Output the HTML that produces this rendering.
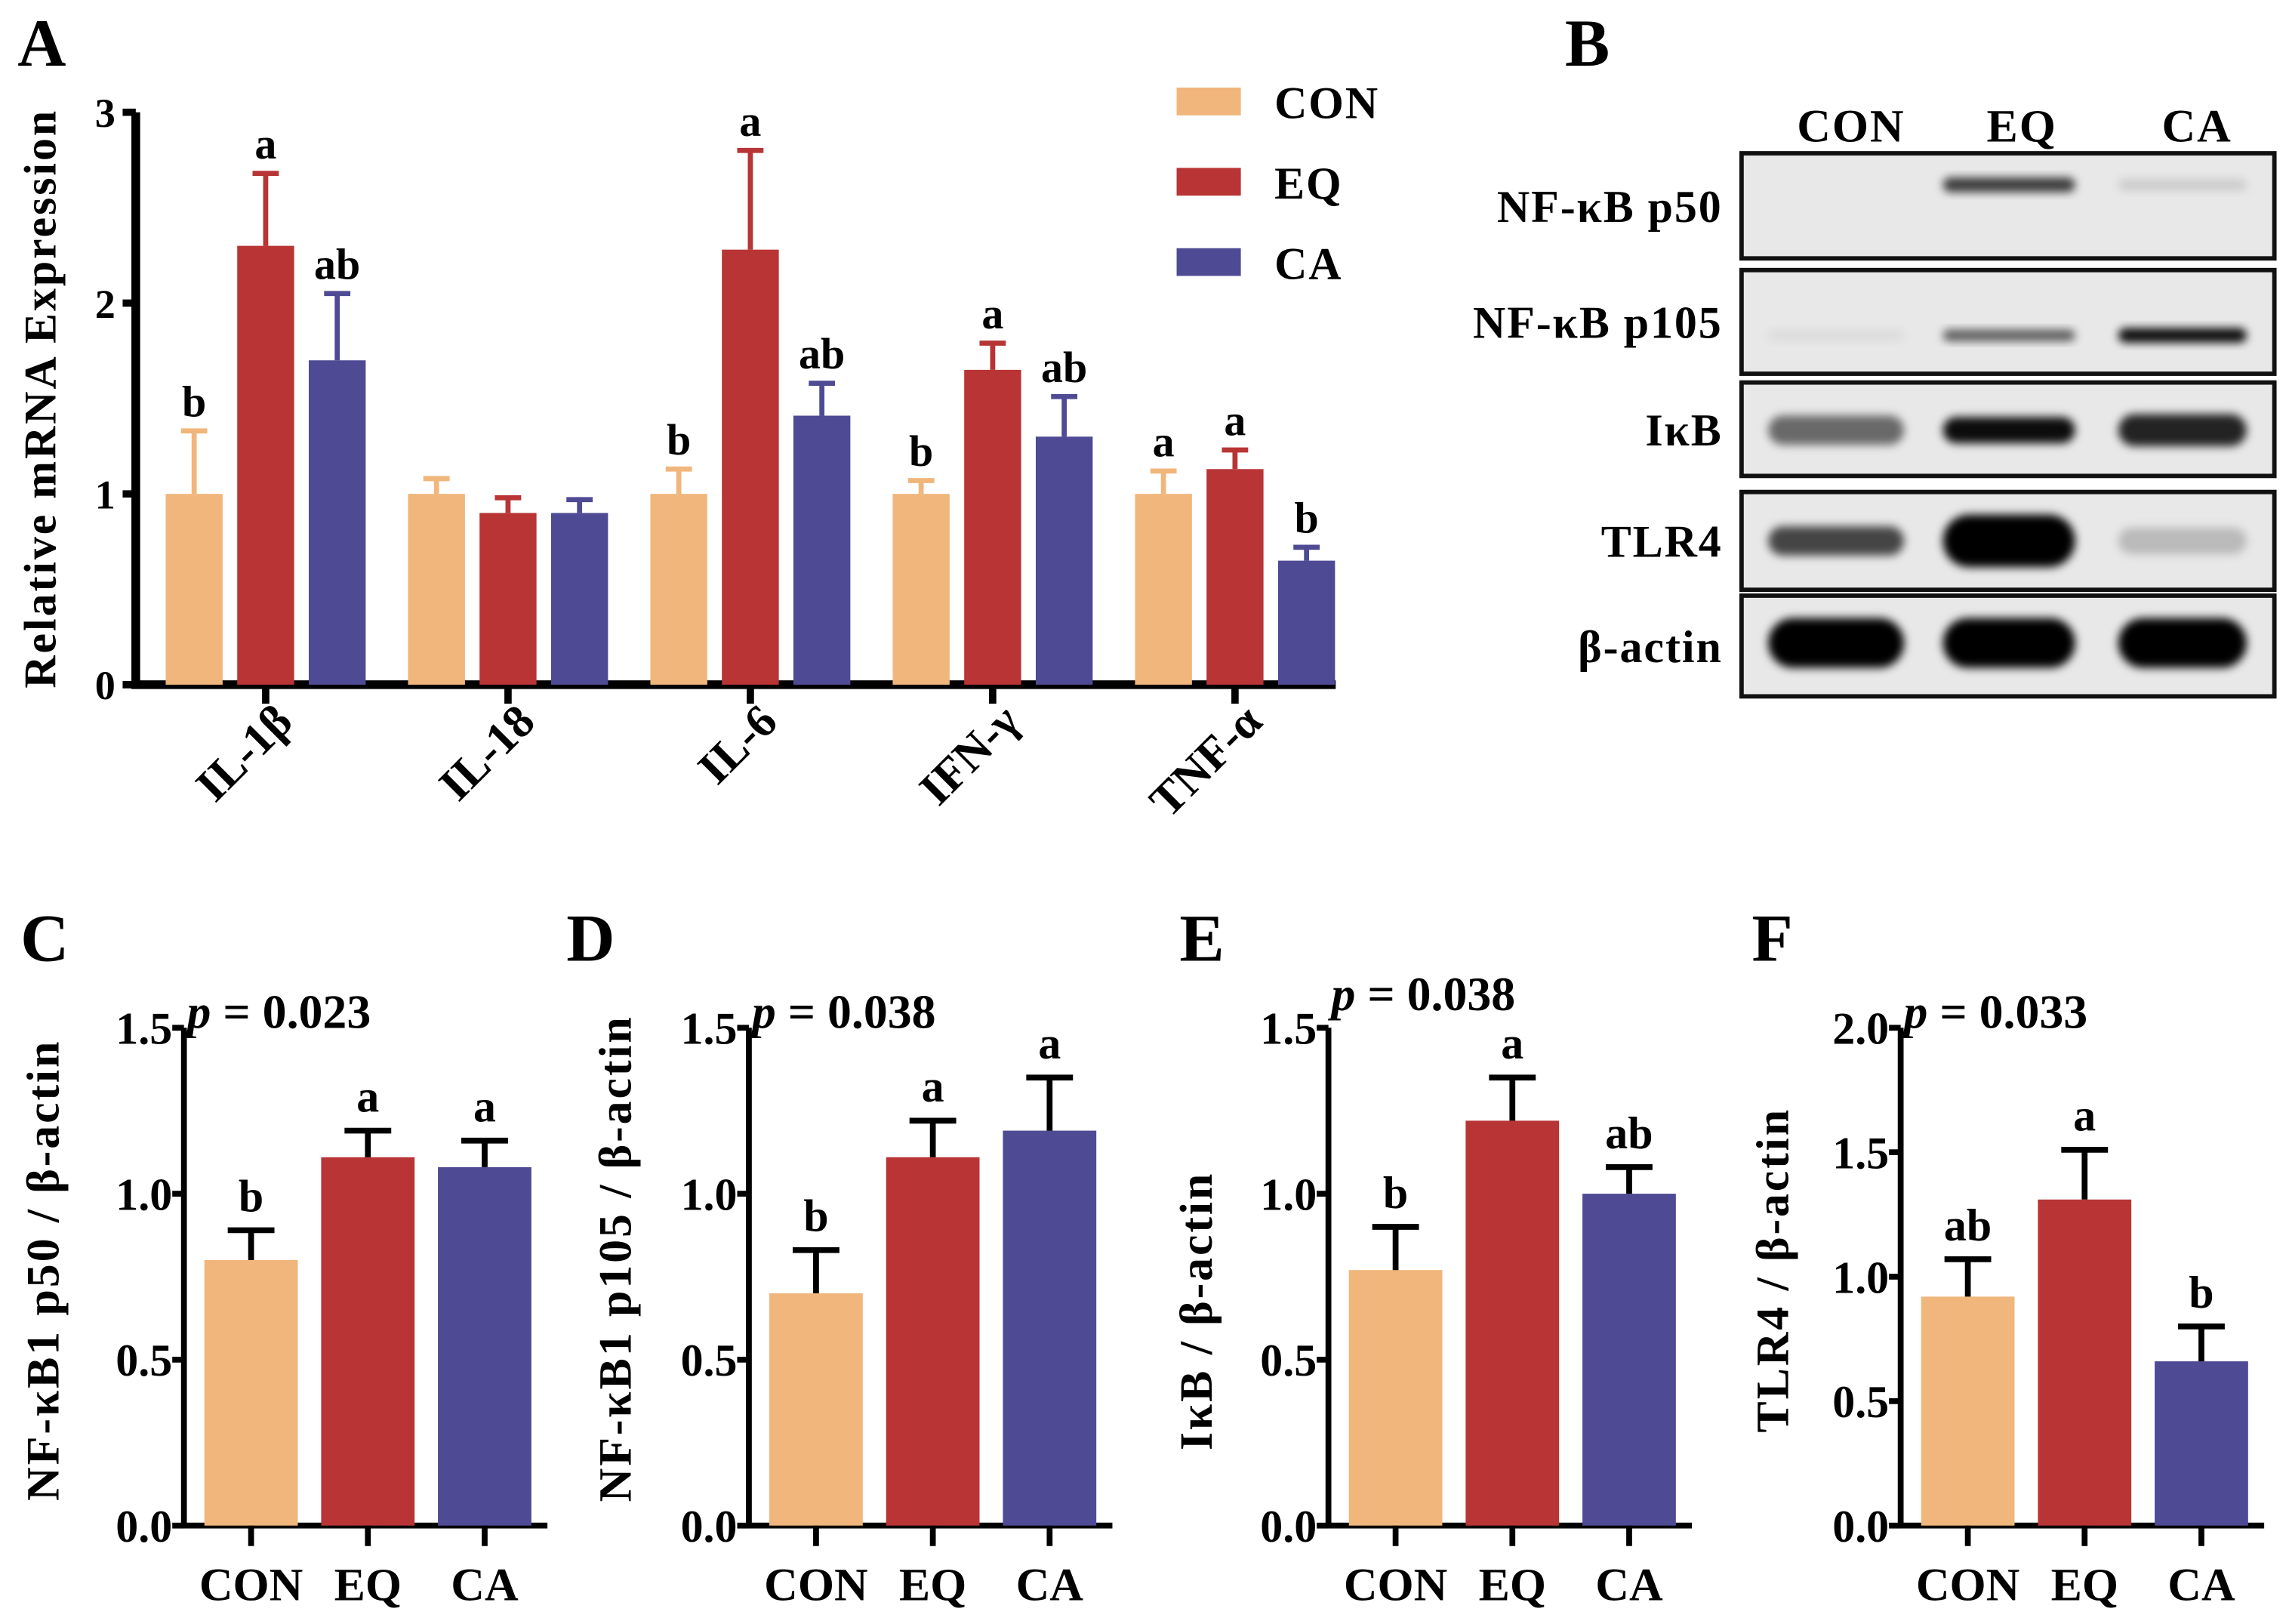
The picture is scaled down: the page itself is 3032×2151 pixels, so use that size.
<!DOCTYPE html>
<html><head><meta charset="utf-8"><style>
html,body{margin:0;padding:0;background:#fff;}
svg{display:block;}
text{font-family:"Liberation Serif",serif;font-weight:bold;fill:#000;}
</style></head><body>
<svg id="fig" width="3032" height="2151" viewBox="0 0 1568 1112.4" xmlns="http://www.w3.org/2000/svg">
<defs><filter id="blur" x="-20%" y="-50%" width="140%" height="200%"><feGaussianBlur stdDeviation="3"/></filter></defs>
</svg>
<script>
// ---------- Panel A data ----------
const catsA = ["IL-1β","IL-18","IL-6","IFN-γ","TNF-α"];
const conA = [1.0, 1.0, 1.0, 1.0, 1.0];
const conErrA = [0.33, 0.08, 0.13, 0.07, 0.12];
const eqA = [2.3, 0.9, 2.28, 1.65, 1.13];
const eqErrA = [0.38, 0.08, 0.52, 0.14, 0.1];
const caA = [1.7, 0.9, 1.41, 1.3, 0.65];
const caErrA = [0.35, 0.07, 0.17, 0.21, 0.07];
const conLetA = ["b","","b","b","a"];
const eqLetA = ["a","","a","a","a"];
const caLetA = ["ab","","ab","ab","b"];
const ticksA = [0,1,2,3];
const groups = ["CON","EQ","CA"];
const colors = ["#F0B67B","#B83435","#4F4A94"];

// ---------- Panels C-F data ----------
const valsC = [0.8, 1.11, 1.08]; const errC = [0.09, 0.08, 0.08]; const letC = ["b","a","a"];
const valsD = [0.7, 1.11, 1.19]; const errD = [0.13, 0.11, 0.16]; const letD = ["b","a","a"];
const valsE = [0.77, 1.22, 1.0]; const errE = [0.13, 0.13, 0.08]; const letE = ["b","a","ab"];
const valsF = [0.92, 1.31, 0.66]; const errF = [0.15, 0.2, 0.14]; const letF = ["ab","a","b"];
const ticks15 = [0,0.5,1.0,1.5];
const ticks20 = [0,0.5,1.0,1.5,2.0];

const svg = document.getElementById('fig');
const NS = "http://www.w3.org/2000/svg";
function mk(tag, attrs, parent){
  const e = document.createElementNS(NS, tag);
  for (const k in attrs) e.setAttribute(k, attrs[k]);
  (parent||svg).appendChild(e);
  return e;
}
function txt(s, attrs, parent){ const t = mk('text', attrs, parent); t.textContent = s; return t; }

// ---------- Panel A ----------
const gA = mk('g', {});


const A_x0 = 93, A_y0 = 469, A_unit = 130.7, A_gap = 166, A_c0 = 182, A_bw = 39, A_step = 49;
const yA = v => A_y0 - v*A_unit;
const lblA = txt('A', {x:12, y:45, 'font-size':46}, gA);


const axA = mk('path', {d:`M${A_x0} ${yA(3)} V${A_y0} H915`, stroke:'#000','stroke-width':6, fill:'none'}, gA);


ticksA.forEach(t=>{
  mk('line',{x1:A_x0-9,x2:A_x0,y1:yA(t),y2:yA(t),stroke:'#000','stroke-width':5},gA);
  const tl = txt(String(t),{x:A_x0-14,y:yA(t)+10,'font-size':28,'text-anchor':'end'},gA);
  
  
});
const ytA = txt('Relative mRNA Expression',{transform:`translate(38,${(yA(3)+A_y0)/2}) rotate(-90)`,'font-size':31,'text-anchor':'middle','letter-spacing':1.5},gA);


const seriesA = [[conA,conErrA,conLetA],[eqA,eqErrA,eqLetA],[caA,caErrA,caLetA]];
catsA.forEach((c,i)=>{
  const cx = A_c0 + i*A_gap;
  mk('line',{x1:cx,x2:cx,y1:A_y0,y2:A_y0+13,stroke:'#000','stroke-width':5},gA);
  const cl = txt(c,{transform:`translate(${cx+20},496) rotate(-45)`,'font-size':32,'text-anchor':'end'},gA);
  
  
  seriesA.forEach((s,j)=>{
    const bx = cx + (j-1)*A_step - A_bw/2;
    const v = s[0][i], e = s[1][i];
    const b = mk('rect',{x:bx,y:yA(v),width:A_bw,height:A_y0-yA(v),fill:colors[j]},gA);
    
    
    const mx = bx + A_bw/2;
    mk('path',{d:`M${mx} ${yA(v)} V${yA(v+e)} M${mx-9} ${yA(v+e)} H${mx+9}`,stroke:colors[j],'stroke-width':3.5,fill:'none'},gA);
    if (s[2][i]) {
      const lt = txt(s[2][i],{x:mx,y:yA(v+e)-10,'font-size':30,'text-anchor':'middle'},gA);
      
      
    }
  });
});
// legend
groups.forEach((g,j)=>{
  const ly = 60 + j*55;
  const sw = mk('rect',{x:806,y:ly,width:44,height:19,fill:colors[j]});
  
  
  const lt = txt(g,{x:873,y:ly+21,'font-size':31,'letter-spacing':1});
  
  
});

// ---------- Panel B (western blot) ----------
const gB = mk('g',{});


const lblB = txt('B',{x:1072,y:45,'font-size':46},gB);


[['CON',1268],['EQ',1385],['CA',1505]].forEach(([t,x])=>{
  const h = txt(t,{x:x,y:97,'font-size':32,'text-anchor':'middle','letter-spacing':1},gB);
  
  
});
const blots = [
  {name:'NF-κB p50', y0:105, y1:177, c:.30, bands:[[0,0,0],[.75,5,1],[.12,4,0]]},
  {name:'NF-κB p105', y0:185, y1:256, c:.63, bands:[[.05,4,0],[.6,4,1],[.95,5,0]]},
  {name:'IκB', y0:262, y1:326, c:.51, bands:[[.55,10,0],[.95,9,0],[.85,11,0]]},
  {name:'TLR4', y0:337, y1:404, c:.5, bands:[[.7,10,0],[1,18,0],[.2,9,0]]},
  {name:'β-actin', y0:408, y1:477, c:.47, bands:[[1,17,0],[1,17,0],[1,17,0]]},
];
const laneFr = [[.05,.305],[.378,.626],[.707,.948]];
const BX0 = 1193, BX1 = 1558;
blots.forEach(b=>{
  const box = mk('rect',{x:BX0,y:b.y0,width:BX1-BX0,height:b.y1-b.y0,fill:'#e8e8e8',stroke:'#111','stroke-width':3},gB);
  
  
  const cy = b.y0 + (b.y1-b.y0)*b.c;
  b.bands.forEach((bd,k)=>{
    if (bd[0] <= 0) return;
    const x0 = BX0 + (BX1-BX0)*laneFr[k][0], x1 = BX0 + (BX1-BX0)*laneFr[k][1];
    const band = mk('rect',{x:x0,y:cy-bd[1],width:x1-x0,height:bd[1]*2,rx:bd[1],fill:'#000','fill-opacity':bd[0],filter:'url(#blur)'},gB);
    
    
  });
  const lab = txt(b.name,{x:1180,y:(b.y0+b.y1)/2+11,'font-size':31,'text-anchor':'end','letter-spacing':1},gB);
  
  
});

// ---------- Panels C-F ----------
const small = [
  {id:'c', L:'C', lx:14, ax:126, vals:valsC, errs:errC, lets:letC, max:1.5, ticks:ticks15, p:'0.023', py:692, title:'NF-κB1 p50 / β-actin', tx:28, ty:870},
  {id:'d', L:'D', lx:388, ax:513, vals:valsD, errs:errD, lets:letD, max:1.5, ticks:ticks15, p:'0.038', py:692, title:'NF-κB1 p105 / β-actin', tx:420, ty:862},
  {id:'e', L:'E', lx:808, ax:910, vals:valsE, errs:errE, lets:letE, max:1.5, ticks:ticks15, p:'0.038', py:680, title:'IκB / β-actin', tx:818, ty:898},
  {id:'f', L:'F', lx:1200, ax:1302, vals:valsF, errs:errF, lets:letF, max:2.0, ticks:ticks20, p:'0.033', py:692, title:'TLR4 / β-actin', tx:1213, ty:870},
];
const S_y0 = 1045, S_top = 704;
small.forEach(P=>{
  const g = mk('g',{});
  
  
  const yS = v => S_y0 - v/P.max*(S_y0-S_top);
  const pl = txt(P.L,{x:P.lx,y:658,'font-size':46},g);
  
  
  const ax = mk('path',{d:`M${P.ax} ${S_top} V${S_y0} H${P.ax+249}`,stroke:'#000','stroke-width':4,fill:'none'},g);
  
  
  P.ticks.forEach(t=>{
    mk('line',{x1:P.ax-8,x2:P.ax,y1:yS(t),y2:yS(t),stroke:'#000','stroke-width':4},g);
    const tl = txt(t.toFixed(1),{x:P.ax-8,y:yS(t)+11,'font-size':31,'text-anchor':'end'},g);
    
    
  });
  const yt = txt(P.title,{transform:`translate(${P.tx+12},${P.ty}) rotate(-90)`,'font-size':32,'text-anchor':'middle','letter-spacing':1.5},g);
  
  
  const pv = txt('',{x:P.ax+2,y:P.py+12,'font-size':33},g);
  
  
  const ps = mk('tspan',{'font-style':'italic'},pv); ps.textContent='p';
  const ps2 = mk('tspan',{},pv); ps2.textContent=' = '+P.p;
  P.vals.forEach((v,j)=>{
    const bx = P.ax + 14 + j*80, bw = 64, mx = bx + bw/2;
    const b = mk('rect',{x:bx,y:yS(v),width:bw,height:S_y0-yS(v),fill:colors[j]},g);
    
    
    const e = P.errs[j];
    mk('path',{d:`M${mx} ${yS(v)} V${yS(v+e)} M${mx-16} ${yS(v+e)} H${mx+16}`,stroke:'#000','stroke-width':4,fill:'none'},g);
    const lt = txt(P.lets[j],{x:mx,y:yS(v+e)-13,'font-size':31,'text-anchor':'middle'},g);
    
    
    mk('line',{x1:mx,x2:mx,y1:S_y0,y2:S_y0+14,stroke:'#000','stroke-width':4},g);
    const xl = txt(groups[j],{x:mx,y:1096,'font-size':32,'text-anchor':'middle'},g);
    
    
  });
});
</script>
</body></html>
